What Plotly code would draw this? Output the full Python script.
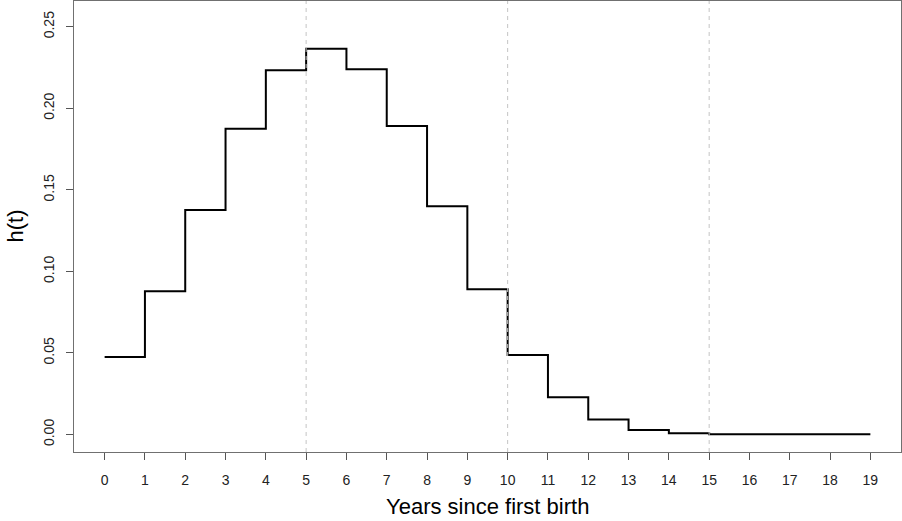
import plotly.graph_objects as go

years = list(range(20))
hazard = [0.0476, 0.0879, 0.1376, 0.1875, 0.2233, 0.2366, 0.2239, 0.1891, 0.1399, 0.0891,
          0.0487, 0.0229, 0.0092, 0.0028, 0.0008, 0.0002, 0.0002, 0.0002, 0.0002, 0.0002]
vlines = [5, 10, 15]
x_title = "Years since first birth"
y_title = "h(t)"
y_ticks = [0.00, 0.05, 0.10, 0.15, 0.20, 0.25]
y_ticktext = ["0.00", "0.05", "0.10", "0.15", "0.20", "0.25"]

font = "Liberation Sans, Arial, sans-serif"

fig = go.Figure()
fig.add_trace(go.Scatter(x=years, y=hazard, mode="lines", line=dict(shape="hv", color="black", width=2),
                         showlegend=False, hoverinfo="skip"))

for v in vlines:
    fig.add_shape(type="line", x0=v, x1=v, xref="x", y0=0, y1=1, yref="paper",
                  line=dict(color="#c4c4c4", width=1, dash="4px,4px"), layer="above")

fig.update_layout(
    width=902, height=521,
    margin=dict(l=74, r=1, t=1, b=69, autoexpand=False),
    paper_bgcolor="white", plot_bgcolor="white",
    font=dict(family=font, size=14, color="#222222"),
    showlegend=False,
)
fig.update_xaxes(range=[-0.76, 19.76], tickmode="array", tickvals=years, ticktext=[str(y) for y in years],
                 showgrid=False, zeroline=False, showline=True, mirror=True, linecolor="#707070", linewidth=1,
                 ticks="outside", ticklen=7, tickcolor="#555555", tickwidth=1, ticklabelstandoff=8,
                 tickfont=dict(size=14, color="#222222"), automargin=False)
fig.update_yaxes(range=[-0.0107, 0.2658], tickmode="array", tickvals=y_ticks, ticktext=y_ticktext,
                 showgrid=False, zeroline=False, showline=True, mirror=True, linecolor="#707070", linewidth=1,
                 ticks="outside", ticklen=7, tickcolor="#555555", tickwidth=1, tickangle=-90,
                 ticklabelstandoff=6, tickfont=dict(size=14, color="#222222"), automargin=False)

fig.add_annotation(text=x_title, xref="paper", yref="paper", x=0.5, y=0, xanchor="center", yanchor="middle",
                   yshift=-54, showarrow=False, font=dict(size=22, color="black", family=font))
fig.add_annotation(text=y_title, xref="paper", yref="paper", x=0, y=0.5, xanchor="center", yanchor="middle",
                   xshift=-59, textangle=-90, showarrow=False, font=dict(size=22, color="black", family=font))

fig.write_html("out.html", config={"displayModeBar": False},
               post_script="document.body.style.margin='0';document.body.style.overflow='hidden';")
